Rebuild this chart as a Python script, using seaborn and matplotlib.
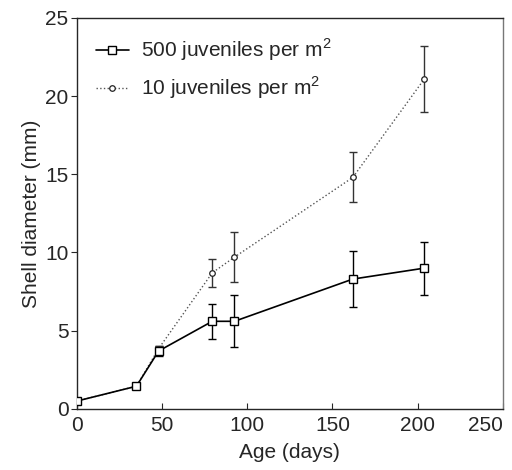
import numpy as np
import pandas as pd
import matplotlib
matplotlib.use("Agg")
import matplotlib.pyplot as plt
import seaborn as sns

# data
age_days = [0, 35, 48, 79.5, 92.5, 162, 204]
dense_mean = [0.5, 1.45, 3.7, 5.6, 5.6, 8.3, 9.0]
dense_err = [0, 0, 0.3, 1.1, 1.65, 1.8, 1.7]
sparse_mean = [0.5, 1.45, 3.85, 8.7, 9.7, 14.8, 21.1]
sparse_err = [0, 0, 0.15, 0.9, 1.6, 1.6, 2.1]
labels = ["500 juveniles per m$^2$", "10 juveniles per m$^2$"]

#------------------------------------------------------------------------------

sns.set_style("ticks")
plt.rcParams['font.family'] = ['Liberation Sans', 'DejaVu Sans']
plt.rcParams['mathtext.fontset'] = 'custom'
plt.rcParams['mathtext.rm'] = 'Liberation Sans'

df = pd.DataFrame({
    'Age': age_days * 2,
    'Diameter': dense_mean + sparse_mean,
    'Density': [labels[0]] * len(age_days) + [labels[1]] * len(age_days),
})

fig = plt.figure(figsize=(5.12, 4.70), dpi=100)
ax = fig.add_axes([0.150, 0.130, 0.832, 0.832])

# error bars first so the lines sit on top
ax.errorbar(age_days, dense_mean, yerr=dense_err, fmt='none', ecolor='black',
            elinewidth=1.0, capsize=3, capthick=1.0, zorder=2)
ax.errorbar(age_days, sparse_mean, yerr=sparse_err, fmt='none', ecolor='#333333',
            elinewidth=1.0, capsize=3, capthick=1.0, zorder=2)

sns.lineplot(data=df[df['Density'] == labels[1]], x='Age', y='Diameter', ax=ax,
             color='#555555', linestyle=':', linewidth=1.0, marker='o',
             markersize=4, markerfacecolor='white', markeredgecolor='#222222',
             markeredgewidth=0.9, label=labels[1], zorder=3)
sns.lineplot(data=df[df['Density'] == labels[0]], x='Age', y='Diameter', ax=ax,
             color='black', linestyle='-', linewidth=1.2, marker='s',
             markersize=6, markerfacecolor='white', markeredgecolor='black',
             markeredgewidth=1.0, label=labels[0], zorder=4)

ax.set_xlim(0, 250)
ax.set_ylim(0, 25)
ax.set_xticks([0, 50, 100, 150, 200, 250])
ax.set_yticks([0, 5, 10, 15, 20, 25])
ax.tick_params(axis='x', direction='in', length=4, labelsize=15, pad=5)
ax.tick_params(axis='y', direction='out', length=4, labelsize=15, pad=2)
# keep the last x label inside the figure, as in the scan
ax.get_xticklabels()[-1].set_horizontalalignment('right')
ax.set_xlabel('Age (days)', fontsize=15, labelpad=6)
ax.set_ylabel('Shell diameter (mm)', fontsize=15, labelpad=3)
for s in ax.spines.values():
    s.set_visible(True)
    s.set_linewidth(1.0)
ax.spines['right'].set_color('#777777')

handles, lbls = ax.get_legend_handles_labels()
order = [lbls.index(labels[0]), lbls.index(labels[1])]
ax.legend([handles[i] for i in order], [lbls[i] for i in order],
          loc='upper left', frameon=False, fontsize=15, handlelength=1.6,
          handletextpad=0.6, borderaxespad=0.5, labelspacing=0.55)

fig.savefig('out.png', dpi=100)
